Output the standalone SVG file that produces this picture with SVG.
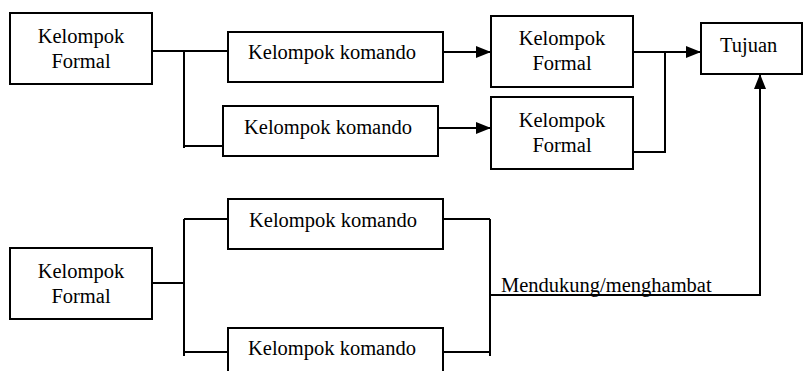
<svg xmlns="http://www.w3.org/2000/svg" width="803" height="371" viewBox="0 0 803 371">
<style>
.box{fill:#fff;stroke:#000;stroke-width:2}
.t{font-family:'Liberation Serif','DejaVu Serif',serif;font-size:20.5px;fill:#000}
.c{text-anchor:middle}
.ln{fill:none;stroke:#000;stroke-width:2}
</style>
<defs>
<marker id="ah" markerUnits="userSpaceOnUse" markerWidth="16" markerHeight="13" refX="15" refY="6" orient="auto">
<path d="M0,0 L15,6 L0,12 z" fill="#000"/>
</marker>
</defs>
<rect width="803" height="371" fill="#fff"/>
<g id="connectors">
<path class="ln" d="M152,51 H184 M184,50 V148 M184,51 H228 M184,146 H223"/>
<path class="ln" d="M443,52 H491" marker-end="url(#ah)"/>
<path class="ln" d="M438,128 H491" marker-end="url(#ah)"/>
<path class="ln" d="M633,52 H701" marker-end="url(#ah)"/>
<path class="ln" d="M665,52 V152 H633"/>
<path class="ln" d="M152,283 H184 M184,219 V356 M184,219 H228 M184,352 H228"/>
<path class="ln" d="M443,219 H490 M443,352 H490 M490,219 V356"/>
<path class="ln" d="M490,295 H760 V74" marker-end="url(#ah)"/>
<text class="t" x="501" y="292" font-family="Liberation Serif, serif">Mendukung/menghambat</text>
</g>
<g id="formal1"><rect class="box" x="10" y="13" width="142" height="71"/><text class="t c" x="81" y="43">Kelompok</text><text class="t c" x="81" y="68">Formal</text></g>
<g id="komando1"><rect class="box" x="228" y="32" width="215" height="50"/><text class="t" x="248" y="59">Kelompok komando</text></g>
<g id="komando2"><rect class="box" x="223" y="106" width="215" height="50"/><text class="t" x="244" y="134">Kelompok komando</text></g>
<g id="formal2"><rect class="box" x="491" y="16" width="142" height="71"/><text class="t c" x="562" y="45">Kelompok</text><text class="t c" x="562" y="70">Formal</text></g>
<g id="formal3"><rect class="box" x="491" y="97" width="142" height="72"/><text class="t c" x="562" y="127">Kelompok</text><text class="t c" x="562" y="152">Formal</text></g>
<g id="tujuan"><rect class="box" x="701" y="23" width="101" height="51"/><text class="t" x="720" y="52">Tujuan</text></g>
<g id="formal4"><rect class="box" x="10" y="248" width="142" height="71"/><text class="t c" x="81" y="278">Kelompok</text><text class="t c" x="81" y="303">Formal</text></g>
<g id="komando3"><rect class="box" x="228" y="199" width="215" height="50"/><text class="t" x="249" y="227">Kelompok komando</text></g>
<g id="komando4"><rect class="box" x="228" y="328" width="215" height="50"/><text class="t" x="248" y="355">Kelompok komando</text></g>
</svg>
